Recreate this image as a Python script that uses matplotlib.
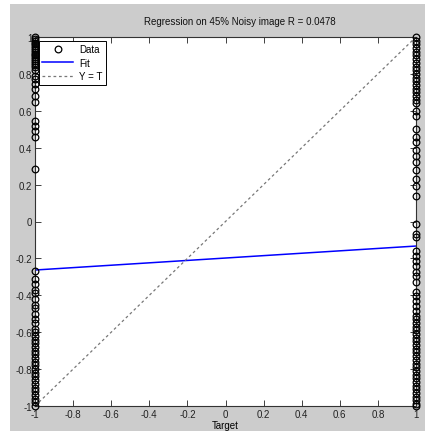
import numpy as np
import matplotlib
matplotlib.use('Agg')
import matplotlib.pyplot as plt
from matplotlib.patches import Rectangle

plt.rcParams['font.family'] = ['Liberation Sans', 'DejaVu Sans']

# network outputs for the two target classes
out_neg = [1.0, 0.99, 0.98, 0.97, 0.96, 0.95, 0.94, 0.93, 0.92, 0.91, 0.90,
           0.89, 0.88, 0.87, 0.86, 0.85, 0.84, 0.82, 0.79, 0.77, 0.745, 0.72,
           0.68, 0.65, 0.545, 0.52, 0.49, 0.46, 0.285,
           -0.27, -0.31, -0.34, -0.37, -0.39, -0.42, -0.45, -0.47, -0.50,
           -0.53, -0.55, -0.58, -0.60, -0.62, -0.64, -0.66, -0.68, -0.70,
           -0.72, -0.74, -0.76, -0.78, -0.80, -0.82, -0.84, -0.86, -0.88,
           -0.90, -0.92, -0.94, -0.96, -0.98, -1.0]
out_pos = [1.0, 0.98, 0.96, 0.94, 0.92, 0.90, 0.88, 0.86, 0.84, 0.82, 0.80,
           0.78, 0.76, 0.74, 0.72, 0.70, 0.68, 0.66, 0.64, 0.60, 0.57, 0.50,
           0.46, 0.43, 0.39, 0.355, 0.32, 0.28, 0.23, 0.19, 0.14,
           -0.014, -0.068, -0.084, -0.16, -0.187, -0.214, -0.241, -0.274,
           -0.295, -0.328, -0.382, -0.404, -0.431, -0.458, -0.485, -0.512,
           -0.53, -0.55, -0.57, -0.59, -0.61, -0.63, -0.65, -0.67, -0.69,
           -0.71, -0.73, -0.75, -0.77, -0.79, -0.81, -0.83, -0.85, -0.87,
           -0.89, -0.91, -0.93, -0.95, -0.97, -0.99, -1.0]

# fitted line end points
fit_x = [-1, 1]
fit_y = [-0.263, -0.133]

ticks = [-1, -0.8, -0.6, -0.4, -0.2, 0, 0.2, 0.4, 0.6, 0.8, 1]
tick_labels = ['-1', '-0.8', '-0.6', '-0.4', '-0.2', '0', '0.2', '0.4', '0.6', '0.8', '1']

fig = plt.figure(figsize=(4.3, 4.35), dpi=100, facecolor='white')
# grey window background, kept behind the axes
bg = Rectangle((10 / 430, 3 / 435), 415 / 430, 427 / 435,
               transform=fig.transFigure, facecolor='#cccccc',
               edgecolor='none', zorder=-10)
fig.add_artist(bg)

ax = fig.add_axes([35 / 430, 28 / 435, 381 / 430, 369 / 435])
ax.set_zorder(1)
ax.set_facecolor('white')

x_data = [-1] * len(out_neg) + [1] * len(out_pos)
y_data = out_neg + out_pos
ax.plot(x_data, y_data, 'o', mfc='none', mec='black', ms=4.8, mew=0.9,
        label='Data', clip_on=False, zorder=3)
ax.plot(fit_x, fit_y, '-', color='blue', lw=1.1, label='Fit')
ax.plot([-1, 1], [-1, 1], '--', dashes=(2.2, 2.2), color='#777777', lw=0.9,
        label='Y = T')

ax.set_xlim(-1, 1)
ax.set_ylim(-1, 1)
ax.set_xticks(ticks)
ax.set_xticklabels(tick_labels)
ax.set_yticks(ticks)
ax.set_yticklabels(tick_labels)
ax.tick_params(direction='in', length=4, width=0.6, labelsize=7,
               top=True, right=True, pad=2, colors='#222222')
for s in ax.spines.values():
    s.set_linewidth(0.8)
    s.set_color('#333333')

fig.text(240 / 430, 1 - 22 / 435, 'Regression on 45% Noisy image R = 0.0478',
         fontsize=7, ha='center', va='center', color='#111111')
ax.set_xlabel('Target', fontsize=7, labelpad=1)

leg = ax.legend(loc='upper left', fontsize=7, fancybox=False, framealpha=1,
                edgecolor='black', borderpad=0.35, handlelength=3.2,
                handletextpad=0.6, labelspacing=0.35, borderaxespad=0.4)
leg.get_frame().set_linewidth(0.7)

fig.savefig('out.png', dpi=100, facecolor='white')
